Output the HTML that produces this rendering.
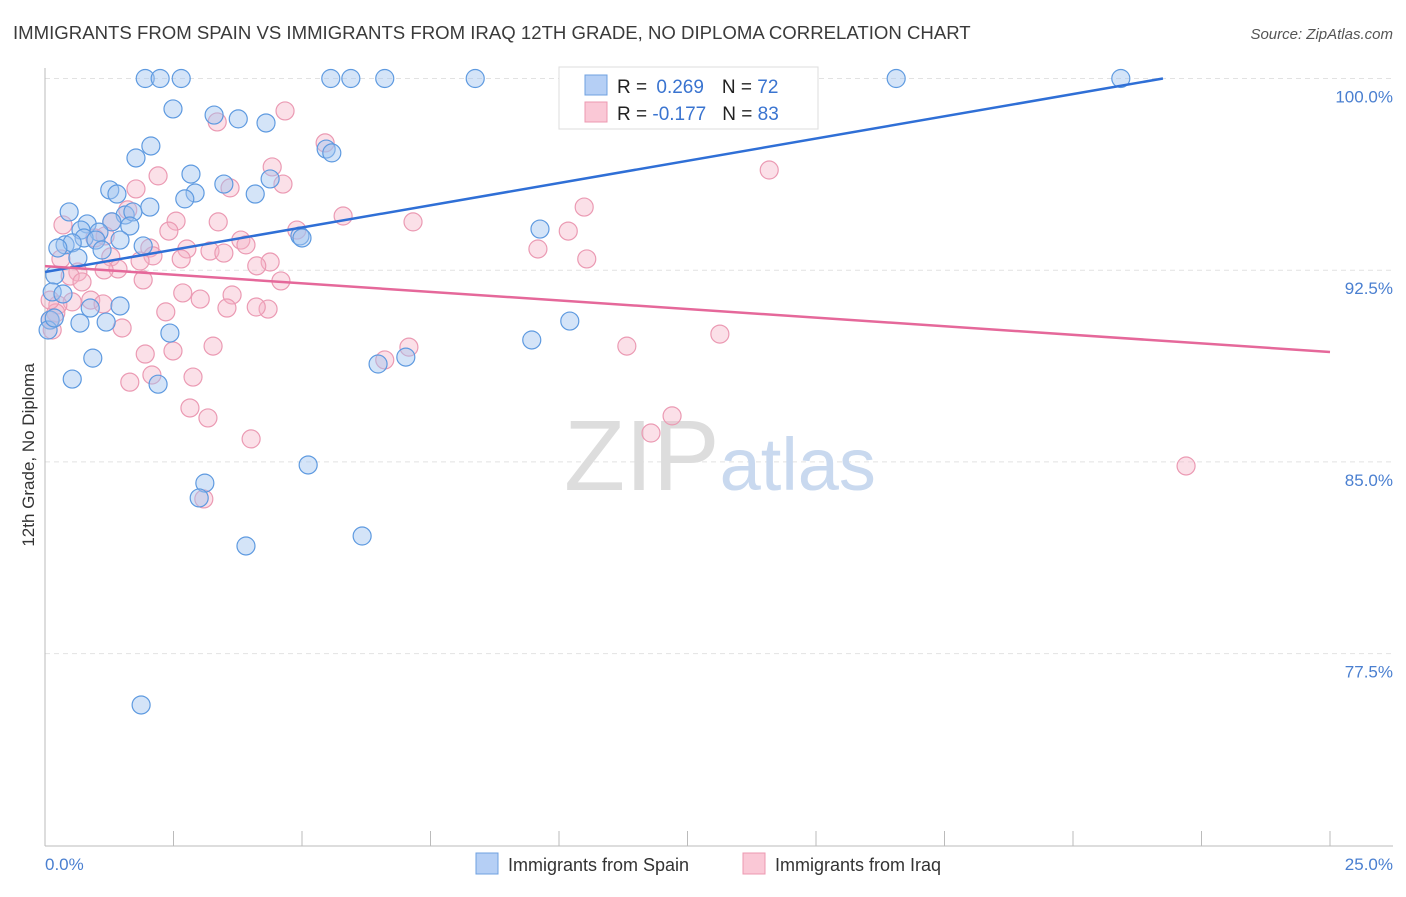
<!DOCTYPE html>
<html><head><meta charset="utf-8"><style>
body{margin:0;background:#fff;font-family:"Liberation Sans",sans-serif;}
svg text{font-family:"Liberation Sans",sans-serif;}
</style></head><body>
<svg id="chart" width="1406" height="892" xmlns="http://www.w3.org/2000/svg">
<text x="13" y="39" font-size="18.6" fill="#3a3a3a">IMMIGRANTS FROM SPAIN VS IMMIGRANTS FROM IRAQ 12TH GRADE, NO DIPLOMA CORRELATION CHART</text>
<text x="1393" y="39" font-size="15" fill="#555" text-anchor="end" font-style="italic">Source: ZipAtlas.com</text>
<g id="grid"></g>
<text x="720" y="490" font-size="100" text-anchor="middle" fill="#ddd" font-family="Liberation Serif,serif">ZIP<tspan fill="#c9d9ef" font-family="Liberation Sans,sans-serif" font-size="74">atlas</tspan></text>
<g id="pts"></g>
<g id="lines"></g>
<text transform="translate(34,455) rotate(-90)" font-size="17" fill="#333" text-anchor="middle">12th Grade, No Diploma</text>
<g>
<rect x="559" y="67" width="259" height="62" fill="#fff" stroke="#ddd"/>
<rect x="585" y="75" width="22" height="20" fill="#b5cff5" stroke="#6fa0e0"/>
<rect x="585" y="102" width="22" height="20" fill="#fac8d6" stroke="#ec98b0"/>
<text x="617" y="93" font-size="19" fill="#222">R = <tspan fill="#3a74d0" dx="4">0.269</tspan><tspan dx="18">N = </tspan><tspan fill="#3a74d0">72</tspan></text>
<text x="617" y="120" font-size="19" fill="#222">R = <tspan fill="#3a74d0">-0.177</tspan><tspan dx="16">N = </tspan><tspan fill="#3a74d0">83</tspan></text>
</g>
<g>
<rect x="476" y="853" width="22" height="21" fill="#b5cff5" stroke="#6fa0e0"/>
<text x="508" y="871" font-size="18" fill="#333">Immigrants from Spain</text>
<rect x="743" y="853" width="22" height="21" fill="#fac8d6" stroke="#ec98b0"/>
<text x="775" y="871" font-size="18" fill="#333">Immigrants from Iraq</text>
</g>
</svg>
<script>
const blueX=[1.95,2.24,2.65,5.56,5.95,6.61,8.37,16.56,20.93,2.49,3.29,3.76,4.30,2.06,1.77,5.47,5.58,2.84,4.38,1.26,1.40,3.48,2.92,4.09,2.72,2.04,0.47,1.56,1.71,1.30,0.82,1.65,0.70,1.05,9.63,0.76,0.99,1.46,4.96,5.00,0.39,0.53,1.91,0.25,1.11,0.64,0.19,0.14,0.35,0.88,1.46,0.68,1.19,10.21,2.43,9.47,0.93,7.02,6.48,0.53,2.20,5.12,3.11,3.00,6.17,3.91,1.87,0.10,0.06,0.18];
const blueY=[100,100,100,100,100,100,100,100,100,98.81,98.57,98.42,98.26,97.36,96.89,97.24,97.09,96.26,96.07,95.64,95.48,95.87,95.52,95.48,95.29,94.97,94.78,94.66,94.78,94.39,94.31,94.23,94.07,93.99,94.11,93.76,93.68,93.68,93.84,93.76,93.49,93.57,93.45,93.37,93.29,92.98,92.31,91.65,91.57,91.02,91.10,90.43,90.47,90.51,90.04,89.77,89.06,89.10,88.83,88.24,88.04,84.88,84.17,83.59,82.10,81.71,75.49,90.55,90.16,90.63];
const pinkX=[4.67,3.35,5.45,14.09,4.42,2.20,4.63,3.60,1.77,10.49,5.80,7.16,3.37,2.55,1.61,1.30,0.97,0.35,10.18,2.41,4.90,1.17,3.81,3.91,2.04,2.76,3.21,2.10,4.38,1.28,9.59,10.54,4.12,0.31,1.85,2.65,1.42,1.15,0.64,0.49,3.48,0.72,1.91,2.68,3.02,4.59,3.64,0.89,0.53,0.25,1.13,4.34,4.11,3.54,2.35,0.21,1.50,13.13,3.27,11.32,7.08,2.49,1.95,6.61,2.08,1.65,2.88,2.82,3.17,12.20,11.79,4.01,22.20,3.09,0.10,0.14,0.10];
const pinkY=[98.73,98.30,97.48,96.42,96.54,96.19,95.87,95.72,95.68,94.97,94.62,94.39,94.39,94.42,94.86,94.39,93.76,94.27,94.03,94.03,94.07,93.84,93.68,93.49,93.37,93.33,93.25,93.06,92.82,93.02,93.33,92.94,92.67,92.94,92.86,92.94,92.55,92.51,92.43,92.27,93.17,92.04,92.12,91.61,91.37,92.08,91.53,91.33,91.26,91.14,91.18,90.98,91.06,91.02,90.87,90.83,90.24,90.00,89.53,89.53,89.49,89.34,89.22,88.99,88.40,88.12,88.32,87.11,86.72,86.80,86.13,85.90,84.84,83.55,91.33,90.16,90.55];
const yTicks=[100,92.5,85,77.5];
const yTickLabels=["100.0%","92.5%","85.0%","77.5%"];
const xTicks=[0,2.5,5,7.5,10,12.5,15,17.5,20,22.5,25];
const xEndLabels=["0.0%","25.0%"];
const blueTrend=[0,92.43,21.75,100];
const pinkTrend=[0,92.66,25,89.30];

const NS="http://www.w3.org/2000/svg";
const sx=v=>45+v*51.4;
const sy=v=>78.5+(100-v)*25.56;
function mk(tag,attrs,parent){const e=document.createElementNS(NS,tag);for(const k in attrs)e.setAttribute(k,attrs[k]);parent.appendChild(e);return e;}
const grid=document.getElementById('grid');
yTicks.forEach((t,i)=>{
  const l=mk('line',{x1:45,x2:1393,y1:sy(t),y2:sy(t),stroke:'#e2e2e2','stroke-dasharray':'5,4'},grid);
  
  
  const tx=mk('text',{x:1393,y:sy(t)+24,'font-size':17,fill:'#4a7fd0','text-anchor':'end'},grid);
  tx.textContent=yTickLabels[i];
  
  
});
const ax=mk('line',{x1:45,x2:45,y1:68,y2:846,stroke:'#bbb'},grid);


const bx=mk('line',{x1:45,x2:1393,y1:846,y2:846,stroke:'#bbb'},grid);


xTicks.forEach(t=>{
  const l=mk('line',{x1:sx(t),x2:sx(t),y1:831,y2:846,stroke:'#bbb'},grid);
  
  
});
const xl0=mk('text',{x:45,y:870,'font-size':17,fill:'#4a7fd0'},grid);xl0.textContent=xEndLabels[0];


const xl1=mk('text',{x:1393,y:870,'font-size':17,fill:'#4a7fd0','text-anchor':'end'},grid);xl1.textContent=xEndLabels[1];


const pts=document.getElementById('pts');
pinkX.forEach((x,i)=>{
  const c=mk('circle',{cx:sx(x),cy:sy(pinkY[i]),r:9,fill:'rgba(246,178,198,0.4)',stroke:'#eb9ab3','stroke-width':1.2},pts);
  
  
});
blueX.forEach((x,i)=>{
  const c=mk('circle',{cx:sx(x),cy:sy(blueY[i]),r:9,fill:'rgba(160,196,240,0.45)',stroke:'#5e9ae0','stroke-width':1.2},pts);
  
  
});
const lines=document.getElementById('lines');
const bl=mk('line',{x1:sx(blueTrend[0]),y1:sy(blueTrend[1]),x2:sx(blueTrend[2]),y2:sy(blueTrend[3]),stroke:'#2f6fd6','stroke-width':2.5},lines);


const pl=mk('line',{x1:sx(pinkTrend[0]),y1:sy(pinkTrend[1]),x2:sx(pinkTrend[2]),y2:sy(pinkTrend[3]),stroke:'#e5689a','stroke-width':2.5},lines);


</script>
</body></html>
